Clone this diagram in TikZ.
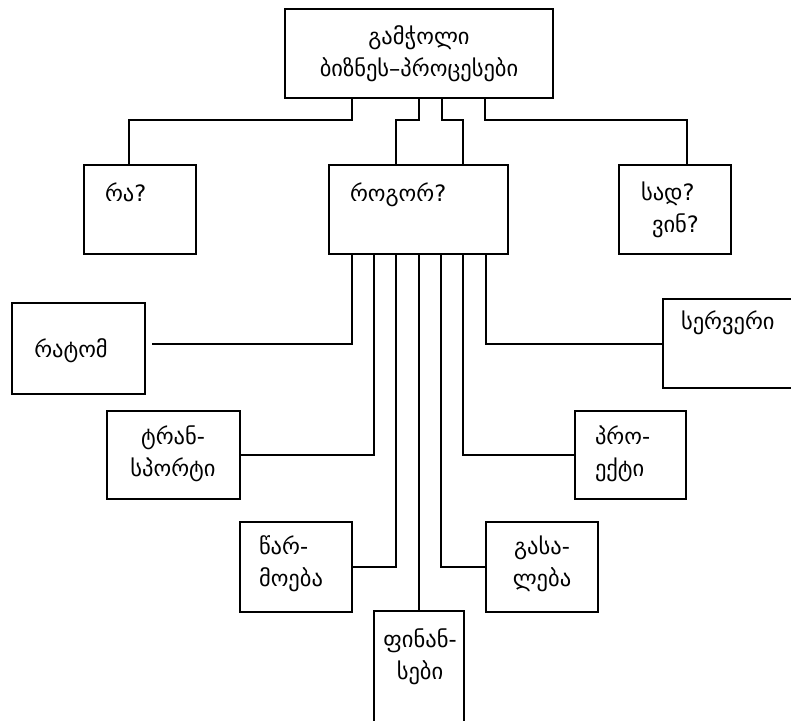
\documentclass[tikz,border=0pt]{standalone}
\usepackage{fontspec}
\setmainfont{DejaVu Sans}
\usepackage{tikz}

\begin{document}
\begin{tikzpicture}[x=1pt, y=-1pt, line width=2pt,
    box/.style={draw=black, rectangle, inner sep=0pt},
    txt/.style={inner sep=0pt, font=\fontsize{22.5}{32}\selectfont}]
    \useasboundingbox (0,0) rectangle (791,720);
    \clip (0,0) rectangle (791,720);

    \node[box, txt, minimum width=268, minimum height=89, align=center] (gam) at (419,53.5)
        {გამჭოლი\\ბიზნეს–პროცესები};

    \node[box, minimum width=112, minimum height=89] (ra) at (140,209.5) {};
    \node[box, minimum width=179, minimum height=89] (rogor) at (418.5,209.5) {};
    \node[box, minimum width=112, minimum height=89] (sad) at (675,209.5) {};
    \node[box, minimum width=133, minimum height=91] (ratom) at (78.5,348.5) {};
    \node[box, minimum width=133, minimum height=88] (trans) at (173.5,455) {};
    \node[box, minimum width=112, minimum height=90] (carm) at (296,567) {};
    \node[box, minimum width=90, minimum height=120] (fin) at (419,671) {};
    \node[box, minimum width=112, minimum height=90] (gas) at (542,567) {};
    \node[box, minimum width=111, minimum height=88] (proek) at (630.5,455) {};
    \node[box, minimum width=140, minimum height=89] (serv) at (733,343.5) {};

    \node[txt, anchor=north west] (ra-t) at (104,182) {რა?};
    \node[txt, anchor=north west] (rogor-t) at (349,182) {როგორ?};
    \node[txt, anchor=north west, align=left] (sad-t) at (640,181) {სად?\\\hspace{11pt}ვინ?};
    \node[txt] (ratom-t) at (71,351) {რატომ};
    \node[txt, anchor=north, align=center] (trans-t) at (173,425) {ტრან-\\სპორტი};
    \node[txt, anchor=north west] (serv-t) at (680,310) {სერვერი};
    \node[txt, anchor=north west, align=left] (proek-t) at (594,425) {პრო-\\ექტი};
    \node[txt, anchor=north west, align=left] (carm-t) at (258,535) {წარ-\\მოება};
    \node[txt, anchor=north, align=center] (gas-t) at (542,535) {გასა-\\ლება};
    \node[txt, anchor=north, align=center] (fin-t) at (420,628) {ფინან-\\სები};

    \draw ([xshift=-67pt]gam.south) -- ++(0,21) -| ([xshift=-11pt]ra.north);
    \draw (gam.south) -- ++(0,21) -| ([xshift=-22.5pt]rogor.north);
    \draw ([xshift=23pt]gam.south) -- ++(0,21) -| ([xshift=44.5pt]rogor.north);
    \draw ([xshift=66pt]gam.south) -- ++(0,21) -| ([xshift=12pt]sad.north);

    \draw ([xshift=-66.5pt]rogor.south) |- ([xshift=6pt,yshift=5pt]ratom.east);
    \draw ([xshift=-44.5pt]rogor.south) |- (trans.east);
    \draw ([xshift=-22.5pt]rogor.south) |- (carm.east);
    \draw (rogor.south -| fin.north) -- (fin.north);
    \draw ([xshift=22.5pt]rogor.south) |- (gas.west);
    \draw ([xshift=44.5pt]rogor.south) |- (proek.west);
    \draw ([xshift=67.5pt]rogor.south) |- (serv.west);
\end{tikzpicture}
\end{document}
